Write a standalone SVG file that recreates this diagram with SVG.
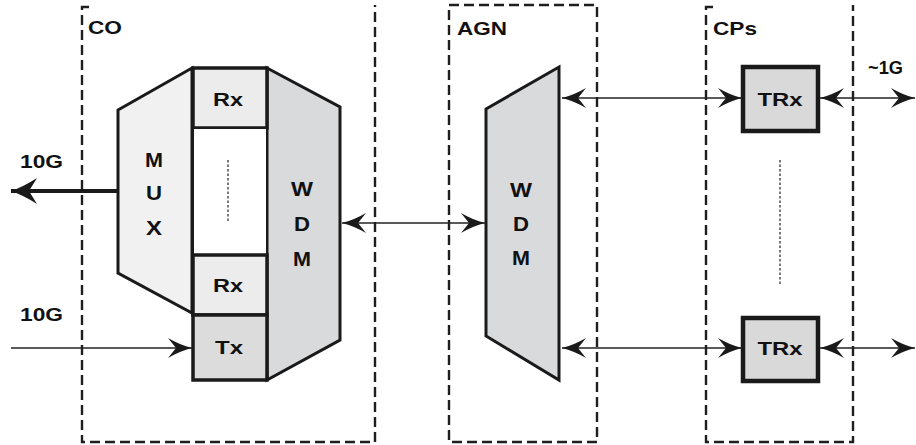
<svg xmlns="http://www.w3.org/2000/svg" width="916" height="445" viewBox="0 0 916 445">
<style>
.t{font-family:"Liberation Sans",Arial,sans-serif;font-weight:bold;font-size:18px;fill:#111}
.L{font-size:21px}
.c{text-anchor:middle}
.box{fill:none;stroke:#1e1e1e;stroke-width:2.4;stroke-dasharray:10 5}
.blk{stroke:#1a1a1a;stroke-width:3;stroke-linejoin:miter}
.ln{stroke:#222;stroke-width:1.5;fill:none}
.dots{stroke:#222;stroke-width:1.2;stroke-dasharray:2.5 2}
</style>
<defs>
<marker id="ah" markerUnits="userSpaceOnUse" markerWidth="28" markerHeight="24" viewBox="-26 -12 28 24" refX="0" refY="0" orient="auto-start-reverse">
<path d="M0,0 Q-12,-3 -24,-10 L-16,0 L-24,10 Q-12,3 0,0 Z" fill="#1a1a1a"/>
</marker>
<marker id="ahb" markerUnits="userSpaceOnUse" markerWidth="30" markerHeight="30" viewBox="-28 -15 30 30" refX="0" refY="0" orient="auto-start-reverse">
<path d="M0,0 Q-12,-4 -26,-13 L-18,0 L-26,13 Q-12,4 0,0 Z" fill="#1a1a1a"/>
</marker>
</defs>

<g id="CO">
<path class="box" d="M89,7 H82 V442 H375 V5"/>
<text class="t" x="88" y="34" textLength="34" lengthAdjust="spacingAndGlyphs">CO</text>
</g>
<g id="AGN">
<rect class="box" x="449" y="5" width="148" height="437"/>
<text class="t" x="457" y="35" textLength="50" lengthAdjust="spacingAndGlyphs">AGN</text>
</g>
<g id="CPs">
<path class="box" d="M713,7 H706 V442 H853 V5"/>
<text class="t" x="713" y="35" textLength="44" lengthAdjust="spacingAndGlyphs">CPs</text>
</g>

<g id="mux">
<polygon class="blk" points="118,110 192,68 192,313 118,273" fill="#f1f1f1"/>
<text class="t L c" x="154" y="167" textLength="18" lengthAdjust="spacingAndGlyphs">M</text>
<text class="t L c" x="154" y="200" textLength="16" lengthAdjust="spacingAndGlyphs">U</text>
<text class="t L c" x="154" y="235" textLength="16" lengthAdjust="spacingAndGlyphs">X</text>
</g>
<g id="wdm-co">
<polygon class="blk" points="267,68 340,107 340,340 267,380" fill="#d9dadc"/>
<text class="t L c" x="302" y="196" textLength="22" lengthAdjust="spacingAndGlyphs">W</text>
<text class="t L c" x="302" y="231" textLength="16" lengthAdjust="spacingAndGlyphs">D</text>
<text class="t L c" x="302" y="266" textLength="18" lengthAdjust="spacingAndGlyphs">M</text>
</g>
<g id="rx-top">
<rect x="193" y="68" width="74" height="60" fill="#ececec" stroke="#1a1a1a" stroke-width="3.5"/>
<text class="t c" x="228" y="106" textLength="30" lengthAdjust="spacingAndGlyphs">Rx</text>
</g>
<g id="rx-gap">
<rect x="193" y="128" width="74" height="127" fill="#ffffff" stroke="#1a1a1a" stroke-width="2"/>
<line class="dots" x1="228" y1="160" x2="228" y2="223"/>
</g>
<g id="rx-bot">
<rect x="193" y="255" width="74" height="60" fill="#ececec" stroke="#1a1a1a" stroke-width="3.5"/>
<text class="t c" x="228" y="292" textLength="30" lengthAdjust="spacingAndGlyphs">Rx</text>
</g>
<g id="tx">
<rect x="193" y="315" width="74" height="65" fill="#dcdcdc" stroke="#1a1a1a" stroke-width="3.5"/>
<text class="t c" x="229" y="354" textLength="28" lengthAdjust="spacingAndGlyphs">Tx</text>
</g>

<g id="wdm-agn">
<polygon class="blk" points="486,109 559,67 559,380 486,336" fill="#d9dadc"/>
<text class="t L c" x="521" y="197" textLength="22" lengthAdjust="spacingAndGlyphs">W</text>
<text class="t L c" x="521" y="231" textLength="16" lengthAdjust="spacingAndGlyphs">D</text>
<text class="t L c" x="521" y="265" textLength="18" lengthAdjust="spacingAndGlyphs">M</text>
</g>

<g id="trx-top">
<rect x="743" y="67" width="75" height="64" fill="#d9d9d9" stroke="#1a1a1a" stroke-width="4.5"/>
<text class="t c" x="780" y="106" textLength="45" lengthAdjust="spacingAndGlyphs">TRx</text>
</g>
<line class="dots" x1="780" y1="160" x2="780" y2="286"/>
<g id="trx-bot">
<rect x="743" y="318" width="75" height="63" fill="#d9d9d9" stroke="#1a1a1a" stroke-width="4.5"/>
<text class="t c" x="780" y="355" textLength="45" lengthAdjust="spacingAndGlyphs">TRx</text>
</g>

<g id="labels">
<text class="t" x="20" y="168" textLength="43" lengthAdjust="spacingAndGlyphs">10G</text>
<text class="t" x="20" y="321" textLength="43" lengthAdjust="spacingAndGlyphs">10G</text>
<text class="t" x="868" y="74" textLength="35" lengthAdjust="spacingAndGlyphs">~1G</text>
</g>

<g id="connectors">
<line x1="118" y1="191" x2="11" y2="191" stroke="#1a1a1a" stroke-width="4" marker-end="url(#ahb)"/>
<line class="ln" x1="11" y1="348" x2="192" y2="348" marker-end="url(#ah)"/>
<line class="ln" x1="342" y1="223" x2="485" y2="223" marker-start="url(#ah)" marker-end="url(#ah)"/>
<line class="ln" x1="562" y1="98" x2="742" y2="98" marker-start="url(#ah)" marker-end="url(#ah)"/>
<line class="ln" x1="820" y1="98" x2="915" y2="98" marker-start="url(#ah)" marker-end="url(#ah)"/>
<line class="ln" x1="562" y1="348" x2="742" y2="348" marker-start="url(#ah)" marker-end="url(#ah)"/>
<line class="ln" x1="820" y1="348" x2="915" y2="348" marker-start="url(#ah)" marker-end="url(#ah)"/>
</g>
</svg>
